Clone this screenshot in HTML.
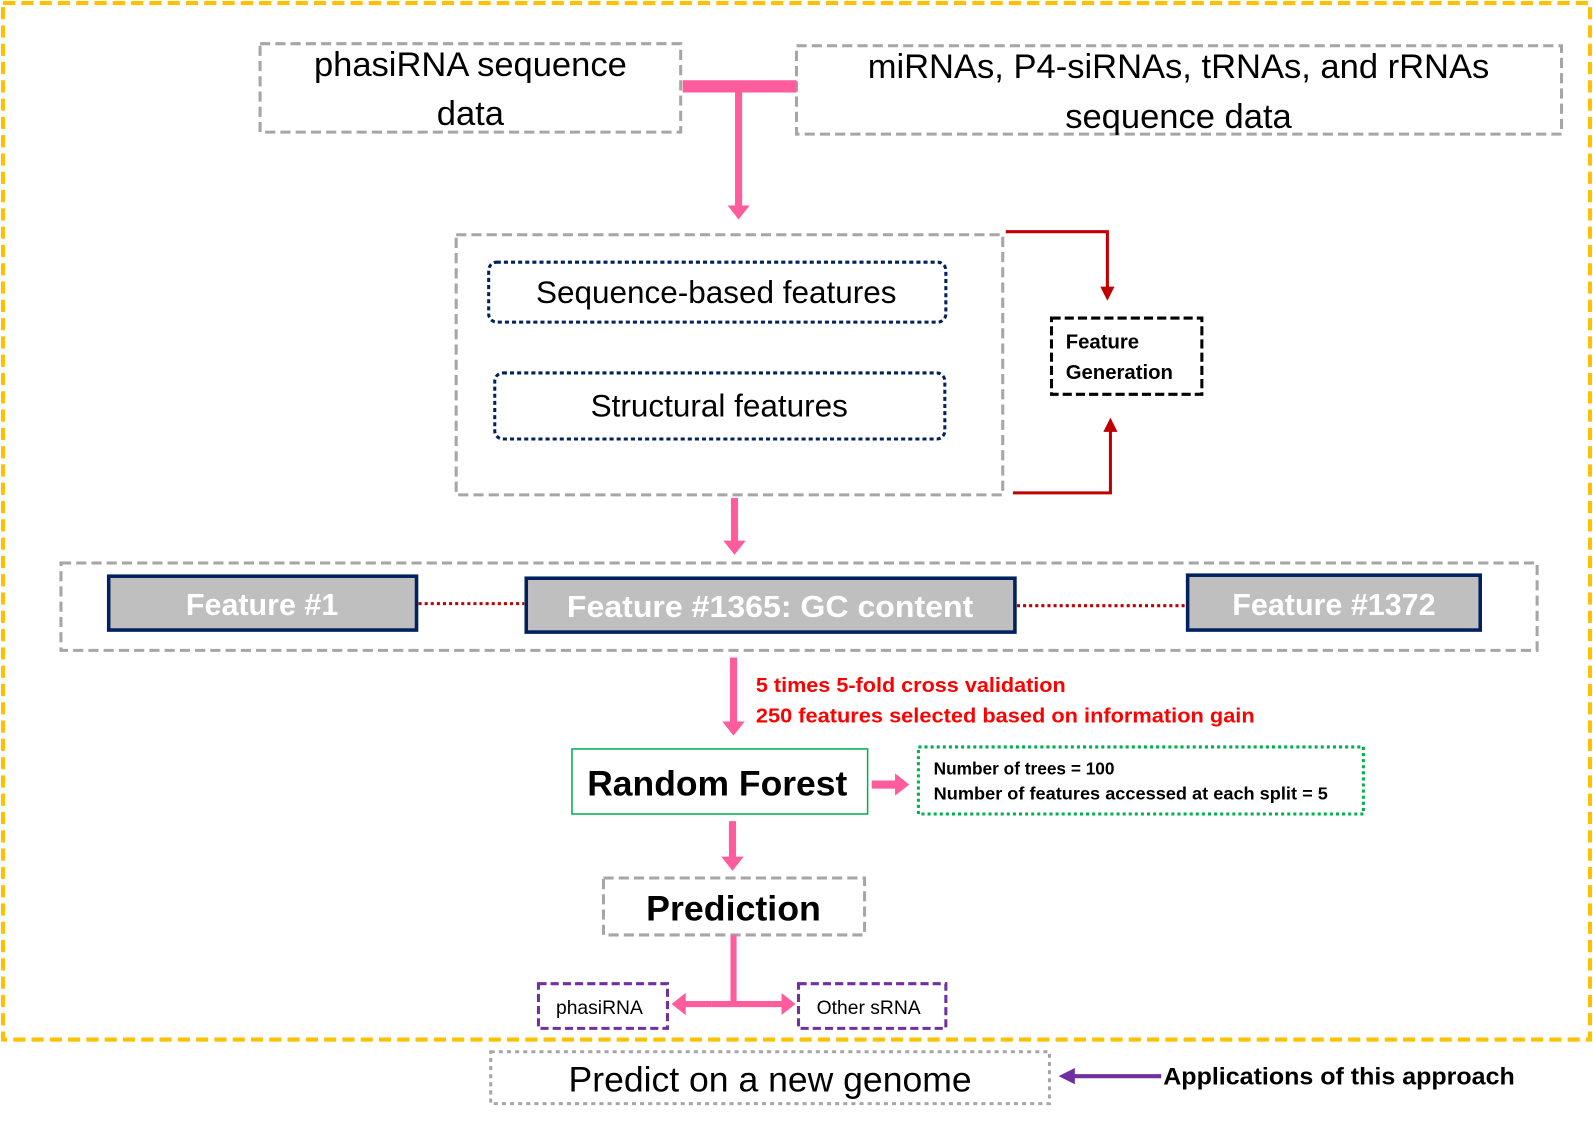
<!DOCTYPE html>
<html><head><meta charset="utf-8"><style>html,body{margin:0;padding:0;background:#fff}svg{display:block}</style></head>
<body>
<svg width="1593" height="1128" viewBox="0 0 1568 1110" preserveAspectRatio="none" xmlns="http://www.w3.org/2000/svg" font-family="Liberation Sans, sans-serif">
<defs>
<marker id="pk" markerWidth="14" markerHeight="22" refX="2" refY="11" orient="auto" markerUnits="userSpaceOnUse"><path d="M0,0L14,11L0,22z" fill="#FF5C9D"/></marker>
<marker id="rd" markerWidth="14" markerHeight="14" refX="2" refY="7" orient="auto" markerUnits="userSpaceOnUse"><path d="M0,0L14,7L0,14z" fill="#C00000"/></marker>
<marker id="pu" markerWidth="16" markerHeight="16" refX="2" refY="8" orient="auto" markerUnits="userSpaceOnUse"><path d="M0,0L16,8L0,16z" fill="#7030A0"/></marker>
</defs>
<rect x="3" y="3" width="1562" height="1020" fill="none" stroke="#FFC000" stroke-width="4" stroke-dasharray="12 6"/>
<g fill="none" stroke="#A6A6A6" stroke-width="3" stroke-dasharray="10 5">
<rect x="256" y="43" width="414" height="87"/>
<rect x="784" y="45" width="753" height="87"/>
<rect x="449" y="231" width="538" height="256"/>
<rect x="60" y="554" width="1453" height="86"/>
<rect x="594" y="864" width="257" height="56"/>
</g>
<rect x="483" y="1035" width="550" height="51" fill="none" stroke="#A6A6A6" stroke-width="3" stroke-dasharray="4 4"/>
<g font-size="34" text-anchor="middle" fill="#000">
<text x="463" y="75">phasiRNA sequence</text><text x="463" y="123">data</text>
<text x="1160" y="77">miRNAs, P4-siRNAs, tRNAs, and rRNAs</text><text x="1160" y="126">sequence data</text>
</g>
<path d="M672 85H784" stroke="#FF5C9D" stroke-width="12"/>
<path d="M727 85V204" stroke="#FF5C9D" stroke-width="7" marker-end="url(#pk)"/>
<g fill="none" stroke="#002060" stroke-width="3" stroke-dasharray="4 3">
<rect x="481" y="258" width="450" height="59" rx="8"/>
<rect x="487" y="367" width="443" height="65" rx="8"/>
</g>
<text x="705" y="298" font-size="31" text-anchor="middle">Sequence-based features</text>
<text x="708" y="410" font-size="31" text-anchor="middle">Structural features</text>
<path d="M990 228H1090V284" fill="none" stroke="#C00000" stroke-width="3" marker-end="url(#rd)"/>
<path d="M997 485H1093V423" fill="none" stroke="#C00000" stroke-width="3" marker-end="url(#rd)"/>
<rect x="1035" y="313" width="148" height="75" fill="none" stroke="#000" stroke-width="3" stroke-dasharray="9 4"/>
<text x="1049" y="343" font-size="20" font-weight="bold">Feature</text>
<text x="1049" y="373" font-size="20" font-weight="bold">Generation</text>
<path d="M723 490V534" stroke="#FF5C9D" stroke-width="7" marker-end="url(#pk)"/>
<g fill="#BFBFBF" stroke="#002060" stroke-width="3.5">
<rect x="107" y="567" width="303" height="53"/>
<rect x="518" y="569" width="481" height="53"/>
<rect x="1169" y="566" width="288" height="54"/>
</g>
<g fill="#fff" font-size="30" font-weight="bold" text-anchor="middle">
<text x="258" y="605">Feature #1</text>
<text x="758" y="607" textLength="400" lengthAdjust="spacingAndGlyphs">Feature #1365: GC content</text>
<text x="1313" y="605">Feature #1372</text>
</g>
<g stroke="#C00000" stroke-width="3" stroke-dasharray="3 3">
<path d="M412 594H516"/><path d="M1001 596H1167"/>
</g>
<path d="M722 647V712" stroke="#FF5C9D" stroke-width="7" marker-end="url(#pk)"/>
<g fill="#FF0000" font-size="20" font-weight="bold">
<text x="744" y="681" textLength="305" lengthAdjust="spacingAndGlyphs">5 times 5-fold cross validation</text>
<text x="744" y="711" textLength="491" lengthAdjust="spacingAndGlyphs">250 features selected based on information gain</text>
</g>
<rect x="563" y="737" width="291" height="64" fill="none" stroke="#00B050" stroke-width="1.5"/>
<text x="706" y="783" font-size="35" font-weight="bold" text-anchor="middle" textLength="256" lengthAdjust="spacingAndGlyphs">Random Forest</text>
<path d="M858 772H883" stroke="#FF5C9D" stroke-width="8" marker-end="url(#pk)"/>
<rect x="904" y="735" width="438" height="66" fill="none" stroke="#00B050" stroke-width="3" stroke-dasharray="3 3"/>
<text x="919" y="762" font-size="17" font-weight="bold">Number of trees = 100</text>
<text x="919" y="787" font-size="17" font-weight="bold" textLength="388" lengthAdjust="spacingAndGlyphs">Number of features accessed at each split  = 5</text>
<path d="M721 808V845" stroke="#FF5C9D" stroke-width="7" marker-end="url(#pk)"/>
<text x="722" y="906" font-size="35" font-weight="bold" text-anchor="middle" textLength="172" lengthAdjust="spacingAndGlyphs">Prediction</text>
<path d="M722 920V988" stroke="#FF5C9D" stroke-width="6"/>
<path d="M700 988H673" stroke="#FF5C9D" stroke-width="6" marker-end="url(#pk)"/>
<path d="M700 988H771" stroke="#FF5C9D" stroke-width="6" marker-end="url(#pk)"/>
<g fill="none" stroke="#7030A0" stroke-width="3" stroke-dasharray="8 4">
<rect x="530" y="968" width="127" height="44"/>
<rect x="786" y="968" width="145" height="44"/>
</g>
<text x="590" y="998" font-size="19" text-anchor="middle">phasiRNA</text>
<text x="855" y="998" font-size="19" text-anchor="middle">Other sRNA</text>
<text x="758" y="1074" font-size="35" text-anchor="middle">Predict on a new genome</text>
<path d="M1143 1059H1056" stroke="#7030A0" stroke-width="4" marker-end="url(#pu)"/>
<text x="1145" y="1067" font-size="24" font-weight="bold" textLength="346" lengthAdjust="spacingAndGlyphs">Applications of this approach</text>
</svg>
</body></html>
